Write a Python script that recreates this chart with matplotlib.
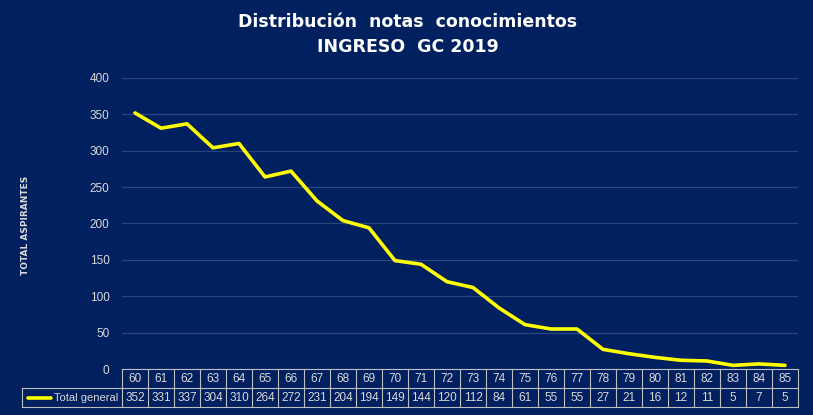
import matplotlib.pyplot as plt
import matplotlib.transforms as mtransforms

# datos
notas = ['60', '61', '62', '63', '64', '65', '66', '67', '68', '69', '70', '71', '72',
         '73', '74', '75', '76', '77', '78', '79', '80', '81', '82', '83', '84', '85']
total = [352, 331, 337, 304, 310, 264, 272, 231, 204, 194, 149, 144, 120,
         112, 84, 61, 55, 55, 27, 21, 16, 12, 11, 5, 7, 5]
serie = 'Total general'

bg = '#002060'
txt = '#D9D9D9'
line_col = '#BFBFBF'
fam = ['Liberation Sans', 'DejaVu Sans']

fig = plt.figure(figsize=(8.13, 4.15), dpi=100, facecolor=bg)
ax = fig.add_axes([122 / 813, 1 - 369 / 415, 676 / 813, 291 / 415])
ax.set_facecolor(bg)

x = list(range(len(notas)))
ax.plot(x, total, color='#FFFF00', linewidth=2.6, solid_capstyle='round', zorder=3)

ax.set_xlim(-0.5, len(notas) - 0.5)
ax.set_ylim(0, 400)
ax.set_yticks(range(0, 401, 50))
ax.yaxis.grid(True, color='#2A4480', linewidth=0.9)
ax.set_axisbelow(True)
ax.tick_params(axis='y', length=0, colors=txt, labelsize=8.5, pad=9)
for lb in ax.get_yticklabels():
    lb.set_family(fam)
ax.set_xticks([])
for s in ax.spines.values():
    s.set_visible(False)

# tabla de datos
tr = mtransforms.blended_transform_factory(ax.transData, ax.transAxes)
h = 19 / 291
px = 1 / 26  # un pixel en unidades de datos
y0, y1, y2 = 0, -h, -2 * h
kw = dict(color=line_col, linewidth=0.8, clip_on=False, transform=tr)
left_lab = -0.5 - 100 * px
ax.plot([-0.5, len(notas) - 0.5], [y0, y0], **kw)
ax.plot([left_lab, len(notas) - 0.5], [y1, y1], **kw)
ax.plot([left_lab, len(notas) - 0.5], [y2, y2], **kw)
for i in range(len(notas) + 1):
    ax.plot([i - 0.5, i - 0.5], [y0, y2], **kw)
ax.plot([left_lab, left_lab], [y1, y2], **kw)
for i, (n, v) in enumerate(zip(notas, total)):
    ax.text(i, -h / 2, n, color=txt, fontsize=8.5, ha='center', va='center',
            family=fam, transform=tr)
    ax.text(i, -1.5 * h, str(v), color=txt, fontsize=8.5, ha='center', va='center',
            family=fam, transform=tr)
ax.plot([left_lab + 6 * px, left_lab + 29 * px], [-1.5 * h, -1.5 * h], color='#FFFF00',
        linewidth=2.6, solid_capstyle='round', clip_on=False, transform=tr)
ax.text(left_lab + 32 * px, -1.5 * h, serie, color=txt, fontsize=8, ha='left', va='center',
        family=fam, transform=tr)

fig.text(25 / 813, 1 - 225 / 415, 'TOTAL ASPIRANTES', rotation=90, color=txt, fontsize=6.5,
         fontweight='bold', ha='center', va='center')
fig.text(408 / 813, 1 - 22 / 415, 'Distribución  notas  conocimientos', color='white',
         fontsize=12.5, fontweight='bold', ha='center', va='center')
fig.text(408 / 813, 1 - 47 / 415, 'INGRESO  GC 2019', color='white',
         fontsize=12.5, fontweight='bold', ha='center', va='center')

plt.savefig('out.png', dpi=100, facecolor=bg)
